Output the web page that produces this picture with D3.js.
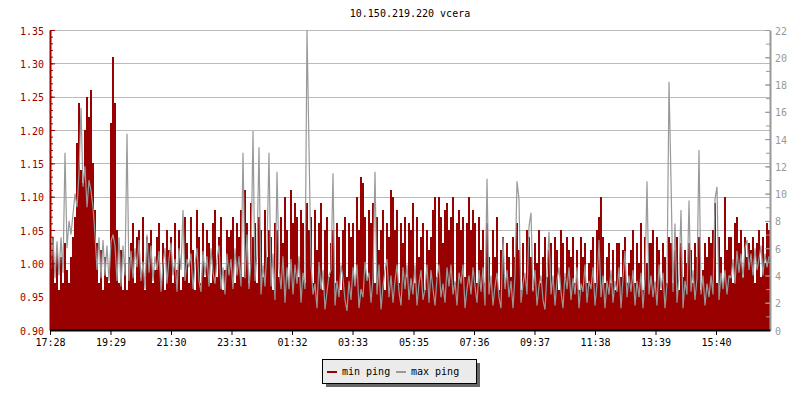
<!DOCTYPE html>
<html>
<head>
<meta charset="utf-8">
<script src="https://cdn.jsdelivr.net/npm/d3@7"></script>
<style>
  body { margin: 0; background: #fff; }
  svg text { font-family: "DejaVu Sans Mono", monospace; font-size: 10px; }
</style>
</head>
<body>
<svg id="chart" width="800" height="400"></svg>
<script>
// chart values (one value every 4 minutes)
var title = "10.150.219.220 vcera";
var seriesNames = ["min ping", "max ping"];
var timeLabels = ["17:28", "19:29", "21:30", "23:31", "01:32", "03:33", "05:35", "07:36", "09:37", "11:38", "13:39", "15:40"];
var leftTicks = [0.90, 0.95, 1.00, 1.05, 1.10, 1.15, 1.20, 1.25, 1.30, 1.35];
var rightTicks = [0, 2, 4, 6, 8, 10, 12, 14, 16, 18, 20, 22];

var minPing = [
  1.00, 1.04, 0.97, 1.02, 0.96, 1.01, 0.97, 1.03, 0.99, 0.97,
  1.01, 1.04, 1.07, 1.18, 1.24, 1.14, 1.12, 1.20, 1.25, 1.22,
  1.26, 1.15, 1.08, 1.03, 0.97, 1.02, 0.96, 1.01, 0.98, 0.97,
  1.21, 1.31, 1.24, 1.05, 0.97, 1.02, 0.96, 1.00, 0.96, 1.01,
  1.03, 1.06, 0.97, 1.04, 1.05, 0.98, 1.07, 0.96, 1.04, 1.03,
  1.05, 0.97, 0.99, 1.04, 1.06, 0.97, 1.03, 0.96, 1.05, 1.02,
  1.04, 0.97, 1.06, 0.99, 1.05, 0.96, 0.98, 1.07, 1.03, 0.97,
  1.07, 1.02, 0.96, 1.08, 1.04, 0.97, 1.06, 0.98, 1.05, 1.03,
  0.97, 1.06, 1.08, 0.98, 1.04, 1.07, 0.96, 0.99, 1.05, 1.04,
  1.05, 1.07, 0.97, 1.06, 1.04, 1.08, 0.98, 1.11, 1.06, 0.97,
  1.09, 1.04, 1.06, 0.97, 1.07, 1.05, 0.98, 1.08, 1.01, 1.05,
  1.04, 0.96, 1.06, 1.05, 0.98, 1.07, 1.03, 1.10, 1.05, 0.97,
  1.11, 1.06, 1.09, 1.07, 0.98, 1.08, 1.06, 0.97, 1.09, 1.05,
  1.07, 0.97, 1.08, 1.02, 1.06, 1.09, 0.96, 1.05, 1.07, 0.98,
  1.03, 1.05, 0.97, 1.06, 1.04, 0.96, 1.05, 1.07, 0.98, 1.06,
  1.04, 1.06, 0.97, 1.10, 1.05, 1.13, 1.12, 1.07, 0.98, 1.08,
  1.06, 1.09, 0.97, 1.07, 1.02, 1.05, 1.08, 0.96, 1.06, 1.04,
  1.11, 1.10, 1.05, 1.08, 0.97, 1.06, 1.03, 1.07, 0.98, 1.06,
  1.05, 1.09, 0.97, 1.07, 1.01, 1.04, 1.06, 0.96, 1.05, 1.02,
  1.04, 1.08, 1.10, 0.98, 1.10, 1.07, 1.03, 1.08, 1.09, 1.05,
  1.07, 1.10, 0.97, 1.06, 1.08, 1.05, 1.07, 0.98, 1.06, 1.10,
  1.05, 1.08, 1.06, 0.97, 1.07, 1.02, 1.05, 0.97, 1.06, 1.01,
  0.97, 1.05, 1.01, 1.07, 0.96, 1.02, 1.04, 0.97, 1.03, 1.01,
  0.98, 1.04, 1.01, 1.06, 1.02, 0.96, 1.03, 0.98, 1.05, 1.04,
  1.01, 0.96, 1.03, 1.00, 1.05, 0.97, 1.01, 1.04, 0.98, 1.02,
  1.03, 0.97, 1.04, 1.02, 0.96, 1.05, 1.03, 0.98, 1.04, 1.02,
  1.01, 1.04, 0.97, 1.02, 0.96, 1.04, 1.01, 1.03, 0.97, 1.00,
  1.02, 1.04, 0.97, 1.05, 1.07, 1.10, 1.04, 0.97, 1.01, 1.03,
  0.97, 1.02, 0.96, 1.03, 1.03, 0.98, 1.02, 1.04, 0.97, 1.00,
  1.02, 1.05, 0.97, 1.03, 1.00, 1.06, 0.96, 1.04, 1.00, 1.03,
  1.03, 1.05, 0.97, 1.04, 1.02, 0.96, 1.03, 1.01, 0.97, 1.04,
  1.03, 0.97, 1.02, 1.04, 0.96, 1.03, 0.98, 1.02, 1.00, 1.03,
  1.02, 0.97, 1.03, 1.01, 1.04, 0.96, 0.99, 1.03, 1.01, 1.04,
  1.03, 1.05, 1.09, 0.97, 1.04, 1.01, 0.97, 1.10, 1.02, 1.04,
  1.04, 0.97, 1.06, 1.07, 1.03, 1.05, 0.98, 1.04, 1.01, 1.03,
  1.02, 1.04, 0.97, 1.03, 1.05, 0.98, 1.04, 1.00, 1.06, 1.05
];

var maxPing = [
  4.5, 6.8, 3.8, 6.5, 4.0, 6.8, 4.2, 13.0, 6.0, 8.0,
  7.0, 8.5, 10.0, 9.0, 11.5, 16.3, 10.5, 12.0, 9.0, 11.0,
  10.2, 9.0, 7.0, 4.4, 6.8, 3.8, 6.6, 4.0, 6.2, 3.6,
  6.5, 7.0, 6.2, 3.6, 6.8, 3.2, 6.2, 4.0, 14.4, 3.6,
  5.8, 3.8, 6.0, 4.6, 6.6, 3.6, 5.0, 3.0, 7.0, 4.2,
  6.2, 3.6, 5.4, 4.4, 5.8, 2.8, 4.8, 6.0, 3.4, 5.2,
  6.4, 4.0, 5.2, 2.8, 6.0, 4.4, 8.8, 3.6, 5.2, 4.6,
  5.6, 3.0, 4.8, 6.0, 3.6, 2.8, 5.8, 4.0, 5.4, 3.2,
  6.0, 4.2, 3.4, 5.2, 6.2, 3.0, 4.6, 2.6, 5.6, 4.0,
  5.2, 3.0, 6.0, 4.0, 5.4, 3.2, 13.0, 3.8, 7.0, 3.0,
  5.0, 14.6, 3.6, 5.6, 13.4, 2.6, 4.8, 3.2, 6.0, 13.0,
  3.2, 5.6, 2.2, 11.6, 4.6, 3.0, 5.4, 2.0, 4.6, 3.0,
  5.2, 2.6, 4.8, 3.4, 5.4, 2.0, 4.2, 3.0, 22.0, 13.4,
  4.8, 2.6, 3.4, 1.6, 5.0, 3.0, 4.4, 1.5, 2.8, 4.0,
  4.4, 11.5, 1.8, 3.6, 2.4, 4.8, 3.8, 2.2, 1.4, 3.6,
  2.2, 4.6, 3.2, 4.8, 1.6, 3.0, 2.4, 5.0, 3.6, 4.2,
  2.0, 3.8, 11.6, 2.6, 4.8, 1.5, 3.2, 4.4, 5.2, 2.4,
  4.0, 2.0, 3.6, 4.8, 2.8, 1.8, 4.6, 3.0, 4.8, 2.2,
  3.8, 2.6, 4.8, 1.8, 3.4, 4.4, 2.2, 3.0, 4.8, 2.0,
  4.4, 3.0, 1.8, 3.8, 4.8, 2.4, 3.4, 2.0, 4.6, 3.2,
  4.8, 2.6, 3.6, 1.8, 4.2, 3.4, 4.8, 1.6, 3.0, 4.0,
  2.6, 4.6, 3.2, 2.0, 4.4, 2.8, 4.6, 1.8, 11.1, 2.6,
  4.0, 1.8, 3.2, 4.2, 2.4, 1.6, 6.8, 3.0, 4.4, 2.4,
  3.6, 1.6, 4.0, 10.9, 9.6, 2.0, 3.4, 4.2, 2.6, 7.6,
  8.6, 2.8, 4.4, 1.8, 3.2, 4.0, 2.2, 1.5, 4.2, 7.2,
  2.6, 4.0, 1.8, 3.6, 4.6, 2.8, 1.6, 4.2, 3.0, 4.6,
  2.2, 3.8, 2.6, 4.6, 1.6, 3.4, 2.8, 4.8, 2.0, 3.6,
  3.0, 4.6, 1.8, 3.4, 6.6, 2.4, 4.0, 1.6, 3.6, 2.6,
  4.4, 2.0, 3.6, 2.8, 4.6, 1.6, 3.8, 5.8, 2.4, 4.0,
  2.8, 4.4, 1.8, 3.6, 2.4, 4.2, 1.6, 3.8, 10.9, 2.6,
  4.0, 2.4, 3.6, 1.8, 4.8, 3.0, 4.2, 1.6, 3.4, 18.2,
  11.0, 2.8, 7.8, 2.0, 4.0, 8.8, 1.6, 3.6, 2.6, 9.5,
  2.8, 4.4, 2.2, 3.8, 13.2, 2.6, 4.0, 1.8, 3.4, 2.4,
  4.0, 2.6, 9.6, 10.5, 2.2, 4.2, 3.0, 4.4, 2.6, 4.0,
  3.8, 5.2, 3.4, 5.8, 4.2, 5.6, 3.8, 6.0, 6.6, 4.4,
  5.6, 4.0, 6.0, 4.4, 5.2, 6.2, 4.0, 5.6, 4.6, 5.4
];

var red = "#990000",
    grey = "#999999";

var svg = d3.select("#chart");
var plotLeft = 50, plotRight = 770, plotTop = 30, plotBottom = 330;

var start = new Date(2020, 0, 1, 17, 28);
var x = d3.scaleTime()
    .domain([start, d3.timeMinute.offset(start, 1440)])
    .range([plotLeft, plotRight]);
var yL = d3.scaleLinear().domain([0.90, 1.35]).range([plotBottom, plotTop]);
var yR = d3.scaleLinear().domain([0, 22]).range([plotBottom, plotTop]);

function toPoints(values) {
    return values.map(function (v, i) {
        return { t: d3.timeMinute.offset(start, i * 4), v: v };
    });
}
var minData = toPoints(minPing);
// close the area at the end of the day with the last value
minData.push({ t: d3.timeMinute.offset(start, 1440), v: minPing[minPing.length - 1] });
var maxData = toPoints(maxPing);

// tick label -> date in the shown day
function labelToDate(s) {
    var p = s.split(":");
    var m = (+p[0] * 60 + +p[1] - (17 * 60 + 28) + 1440) % 1440;
    return d3.timeMinute.offset(start, m);
}
var timeTicks = timeLabels.map(labelToDate);

svg.append("rect").attr("width", 800).attr("height", 400).attr("fill", "#fff");

// title
svg.append("text")
    .attr("x", (plotLeft + plotRight) / 2)
    .attr("y", 17)
    .attr("text-anchor", "middle")
    .attr("fill", "#000")
    .text(title);

// grid
svg.append("g").selectAll("line").data(leftTicks).enter().append("line")
    .attr("x1", plotLeft).attr("x2", plotRight)
    .attr("y1", function (d) { return Math.round(yL(d)) + 0.5; })
    .attr("y2", function (d) { return Math.round(yL(d)) + 0.5; })
    .attr("stroke", "#bbbbbb")
    .attr("stroke-width", 1);

var clip = svg.append("clipPath").attr("id", "plot-clip");
clip.append("rect").attr("x", plotLeft).attr("y", plotTop)
    .attr("width", plotRight - plotLeft).attr("height", plotBottom - plotTop);

var plot = svg.append("g").attr("clip-path", "url(#plot-clip)");

// min ping area on the left scale
var area = d3.area()
    .x(function (d) { return x(d.t); })
    .y0(yL(0.90))
    .y1(function (d) { return yL(d.v); })
    .curve(d3.curveStepAfter);

plot.append("path")
    .datum(minData)
    .attr("d", area)
    .attr("fill", red)
    .attr("shape-rendering", "crispEdges");

// max ping line on the right scale
var line = d3.line()
    .x(function (d) { return x(d.t) + 1; })
    .y(function (d) { return yR(d.v); });

plot.append("path")
    .datum(maxData)
    .attr("d", line)
    .attr("fill", "none")
    .attr("stroke", grey)
    .attr("stroke-width", 1.2)
    .attr("stroke-linejoin", "miter")
    .attr("stroke-miterlimit", 2);

// left axis
var minorLeft = d3.range(90, 136).map(function (d) { return d / 100; });
svg.append("g")
    .attr("transform", "translate(" + plotLeft + ",0)")
    .call(d3.axisLeft(yL).tickValues(minorLeft).tickSize(-3).tickFormat(""))
    .call(function (g) {
        g.select(".domain").remove();
        g.selectAll("line").attr("stroke", red);
    });
svg.append("g")
    .attr("transform", "translate(" + plotLeft + ",0)")
    .call(d3.axisLeft(yL).tickValues(leftTicks).tickSize(-5).tickSizeOuter(0).tickPadding(6).tickFormat(d3.format(".2f")))
    .call(function (g) {
        g.select(".domain").attr("stroke", red).attr("stroke-width", 2);
        g.selectAll("line").attr("stroke", red);
        g.selectAll("text").attr("fill", red).attr("font-size", 10)
            .attr("font-family", "DejaVu Sans Mono, monospace").attr("dy", "0.4em");
    });

// right axis
var minorRight = d3.range(0, 23);
svg.append("g")
    .attr("transform", "translate(" + plotRight + ",0)")
    .call(d3.axisRight(yR).tickValues(minorRight).tickSize(-4).tickFormat(""))
    .call(function (g) {
        g.select(".domain").remove();
        g.selectAll("line").attr("stroke", grey);
    });
svg.append("g")
    .attr("transform", "translate(" + plotRight + ",0)")
    .call(d3.axisRight(yR).tickValues(rightTicks).tickSize(-5).tickSizeOuter(0).tickPadding(5))
    .call(function (g) {
        g.select(".domain").attr("stroke", grey).attr("stroke-width", 2);
        g.selectAll("line").attr("stroke", grey);
        g.selectAll("text").attr("fill", grey).attr("font-size", 10)
            .attr("font-family", "DejaVu Sans Mono, monospace").attr("dy", "0.4em");
    });

// time axis
svg.append("g")
    .attr("transform", "translate(0," + plotBottom + ")")
    .call(d3.axisBottom(x).tickValues(timeTicks).tickSize(5).tickSizeOuter(0).tickPadding(4)
        .tickFormat(function (d, i) { return timeLabels[i]; }))
    .call(function (g) {
        g.select(".domain").attr("stroke", "#000").attr("stroke-width", 2);
        g.selectAll("line").attr("stroke", "#000");
        g.selectAll("text").attr("fill", "#000").attr("font-size", 10)
            .attr("font-family", "DejaVu Sans Mono, monospace");
    });

// legend
var legend = svg.append("g").attr("transform", "translate(322,359)");
legend.append("rect").attr("x", 4).attr("y", 4).attr("width", 154).attr("height", 24).attr("fill", "#666");
legend.append("rect").attr("x", 0.5).attr("y", 0.5).attr("width", 154).attr("height", 24)
    .attr("fill", "#ebebeb").attr("stroke", "#000");
var legendColors = [red, grey];
var legendX = [5, 74];
seriesNames.forEach(function (name, i) {
    legend.append("line")
        .attr("x1", legendX[i]).attr("x2", legendX[i] + 10)
        .attr("y1", 13).attr("y2", 13)
        .attr("stroke", legendColors[i]).attr("stroke-width", 2);
    legend.append("text")
        .attr("x", legendX[i] + 15)
        .attr("y", 16)
        .attr("fill", "#000")
        .text(name);
});
</script>
</body>
</html>
